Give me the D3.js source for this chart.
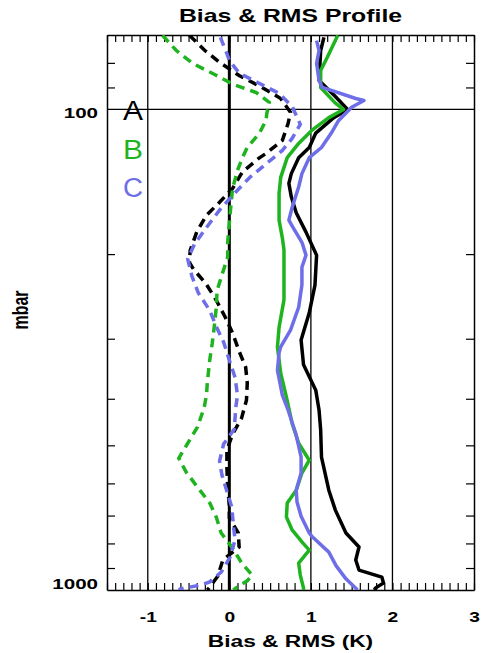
<!DOCTYPE html>
<html>
<head>
<meta charset="utf-8">
<script src="https://cdn.jsdelivr.net/npm/d3@7"></script>
<style>
  body{margin:0;background:#fff;}
  text{font-family:"Liberation Sans",Arial,sans-serif;}
</style>
</head>
<body>
<div id="chart"></div>
<script>
// profiles: [pressure mbar, value K]
const rmsA=[[70.8,1.16],[75.4,1.12],[87,1.10],[94,1.30],[100,1.45],[104,1.28],[112,1.06],[120,0.98],[126,0.85],[136,0.76],[142.5,0.73],[152,0.76],[164,0.82],[180,0.94],[201,1.07],[232,1.05],[265,0.98],[302,0.88],[340,0.91],[384,1.06],[422,1.10],[465,1.12],[529,1.13],[620,1.22],[682,1.30],[761,1.43],[814,1.59],[866,1.55],[909,1.59],[940,1.87],[967,1.89],[991,1.79],[1000,1.78]]
const rmsB=[[70.1,1.33],[78,1.20],[83,1.12],[90,1.12],[97,1.30],[100,1.40],[104,1.22],[110.6,1.01],[117.7,0.85],[126,0.71],[138.5,0.63],[149.5,0.61],[170,0.61],[185,0.65],[196,0.67],[249,0.67],[284,0.61],[312,0.59],[354,0.63],[397,0.70],[450,0.77],[495,0.85],[537,0.98],[571,0.89],[620,0.82],[659,0.71],[705,0.70],[750,0.77],[798,0.90],[826,0.98],[879,0.85],[931,0.87],[991,0.91],[1000,0.91]]
const rmsC=[[71.9,1.07],[75.4,1.10],[80.2,1.07],[87,1.10],[90,1.14],[94.9,1.55],[95.8,1.65],[99,1.50],[105.4,1.34],[112,1.25],[120,1.13],[126,0.98],[136,0.89],[145,0.85],[160,0.77],[170,0.73],[176,0.78],[189,0.89],[201,0.94],[213,0.89],[232,0.89],[258,0.85],[288,0.75],[312,0.63],[321,0.61],[349,0.59],[393,0.65],[422,0.72],[476,0.82],[529,0.88],[571,0.88],[620,0.82],[656,0.83],[702,0.88],[761,0.98],[776,1.02],[834,1.22],[891,1.31],[948,1.43],[995,1.56],[1000,1.57]]
const biasA=[[70.1,-0.49],[75.4,-0.30],[79.8,-0.12],[85,0.12],[90,0.40],[94.9,0.63],[101.4,0.75],[107,0.72],[116,0.65],[123.5,0.45],[126.4,0.36],[135,0.16],[146,0.04],[156,-0.12],[166,-0.28],[180,-0.40],[196.5,-0.48],[208,-0.49],[215,-0.44],[230,-0.29],[249.5,-0.16],[270.6,-0.05],[292,0.04],[318.6,0.12],[343.6,0.20],[371,0.22],[402.6,0.21],[438.8,0.15],[474,0.04],[511.6,-0.03],[555,-0.03],[614,-0.02],[666,0.0],[708,0.0],[761,0.11],[814,0.12],[866,-0.08],[935,-0.14],[991,-0.25],[1000,-0.27]]
const biasB=[[70.1,-0.82],[75.4,-0.65],[80.2,-0.45],[84.6,-0.18],[88.7,0.05],[92.2,0.33],[96.7,0.49],[101.9,0.46],[105.4,0.45],[112,0.37],[120,0.22],[126,0.16],[134,0.10],[146,0.04],[158,0.02],[172,0.0],[189,-0.02],[203,-0.02],[218,-0.08],[238,-0.15],[258,-0.16],[279,-0.18],[307,-0.21],[332,-0.24],[370,-0.27],[393,-0.28],[418,-0.31],[458,-0.39],[495,-0.51],[532,-0.62],[568,-0.53],[611,-0.39],[659,-0.24],[705,-0.16],[761,-0.10],[818,0.04],[883,0.16],[931,0.28],[957,0.22],[991,0.08],[1000,0.05]]
const biasC=[[70.8,-0.11],[76.5,-0.03],[79.1,0.0],[84,0.12],[88.3,0.37],[92.6,0.61],[98.6,0.77],[107.4,0.87],[114.9,0.77],[121.7,0.65],[130.7,0.43],[138.5,0.25],[146,0.12],[151,0.04],[162,-0.12],[176,-0.28],[191,-0.43],[205,-0.51],[222,-0.46],[241,-0.38],[262,-0.24],[283,-0.16],[305,-0.07],[332.5,0.0],[361,0.07],[393,0.10],[416,0.08],[463,0.06],[497,-0.07],[539,-0.12],[577,-0.09],[623,-0.03],[672,0.03],[733,0.05],[787,0.07],[854,0.01],[918,-0.10],[962,-0.24],[976,-0.35],[995,-0.60],[1000,-0.62]]

const names=["A","B","C"]
const colors=["#000000","#1fb41f","#6e6ee8"]
const xLabels=[-1,0,1,2,3]
const yLabels=[100,1000]
const yMinor=[80,90,200,300,400,500,600,700,800,900]

const width=485,height=653
const padL=107,padR=474,padT=35,padB=590
const stretch=1.37 // the picture is wider than normal text

const svg=d3.select("#chart").append("svg").attr("width",width).attr("height",height)

const x=d3.scaleLinear().domain([-1.5,3]).range([padL,padR])
const y=d3.scaleLog().domain([70,1000]).range([padT,padB])

//stretch a text sideways like in the original picture
function wide(sel,k){
  sel.each(function(){
    let w=this.getComputedTextLength()
    d3.select(this).attr("textLength",w*(k||stretch)).attr("lengthAdjust","spacingAndGlyphs")
  })
}

svg.append("text").attr("x",(padL+padR)/2).attr("y",22).attr("text-anchor","middle")
  .attr("font-size",18.5).attr("font-weight","bold").text("Bias & RMS Profile").call(wide,1.34)

// grid lines
svg.append("g").selectAll("line").data(xLabels.filter(d=>d<3)).enter().append("line")
  .attr("x1",d=>x(d)).attr("x2",d=>x(d)).attr("y1",padT).attr("y2",padB)
  .attr("stroke","#000").attr("stroke-width",d=>d==0?3:1.3)
svg.append("line").attr("x1",padL).attr("x2",padR).attr("y1",y(100)).attr("y2",y(100)).attr("stroke","#000").attr("stroke-width",1.3)

// minor ticks all around (pointing inside)
let xMinor=d3.range(-15,31).map(d=>d/10)
svg.append("g").attr("transform",`translate(0,${padB})`).call(d3.axisBottom(x).tickValues(xMinor).tickSize(-7).tickFormat("").tickSizeOuter(0))
svg.append("g").attr("transform",`translate(0,${padT})`).call(d3.axisTop(x).tickValues(xMinor).tickSize(-7).tickFormat("").tickSizeOuter(0))
svg.append("g").attr("transform",`translate(${padL},0)`).call(d3.axisLeft(y).tickValues(yMinor).tickSize(-8).tickFormat("").tickSizeOuter(0))
svg.append("g").attr("transform",`translate(${padR},0)`).call(d3.axisRight(y).tickValues(yMinor).tickSize(-8).tickFormat("").tickSizeOuter(0))
svg.selectAll(".domain").attr("stroke-width",1.5)
svg.selectAll(".tick line").attr("stroke-width",1.2)

// tick labels
let xl=svg.append("g").attr("transform",`translate(0,${padB})`).call(d3.axisBottom(x).tickValues(xLabels).tickSize(0).tickPadding(22).tickFormat(d3.format("d")))
xl.select(".domain").remove()
xl.selectAll("text").attr("font-size",14).attr("font-weight","bold").style("font-family","'Liberation Sans', Arial, sans-serif").text(d=>d<0?"-"+(-d):d).call(wide)
let yl=svg.append("g").attr("transform",`translate(${padL},0)`).call(d3.axisLeft(y).tickValues(yLabels).tickSize(0).tickPadding(9).tickFormat(d3.format("d")))
yl.select(".domain").remove()
yl.selectAll("text").attr("font-size",15).attr("font-weight","bold").style("font-family","'Liberation Sans', Arial, sans-serif").attr("dy",d=>d==1000?"-0.1em":"0.55em").call(wide)

svg.append("text").attr("x",(padL+padR)/2).attr("y",647).attr("text-anchor","middle")
  .attr("font-size",16).attr("font-weight","bold").text("Bias & RMS (K)").call(wide,1.42)
svg.append("text").attr("transform",`translate(28,310) scale(${stretch},1) rotate(-90)`).attr("text-anchor","middle")
  .attr("font-size",16).attr("font-weight","bold").text("mbar")

// profiles
svg.append("clipPath").attr("id","clip").append("rect").attr("x",padL).attr("y",padT).attr("width",padR-padL).attr("height",padB-padT)
const line=d3.line().x(d=>x(d[1])).y(d=>y(d[0]))
const plot=svg.append("g").attr("clip-path","url(#clip)")
let biases=[biasA,biasB,biasC], rmses=[rmsA,rmsB,rmsC]
biases.forEach((s,i)=>{
  plot.append("path").datum(s).attr("d",line).attr("fill","none").attr("stroke",colors[i])
    .attr("stroke-width",3.5).attr("stroke-dasharray","9,6")
})
rmses.forEach((s,i)=>{
  plot.append("path").datum(s).attr("d",line).attr("fill","none").attr("stroke",colors[i])
    .attr("stroke-width",3.5).attr("stroke-linejoin","round")
})

// legend letters
names.forEach((n,i)=>{
  svg.append("text").attr("x",123).attr("y",120+38.5*i).attr("font-size",27).attr("fill",colors[i])
    .attr("textLength",20).attr("lengthAdjust","spacingAndGlyphs").text(n)
})
</script>
</body>
</html>
